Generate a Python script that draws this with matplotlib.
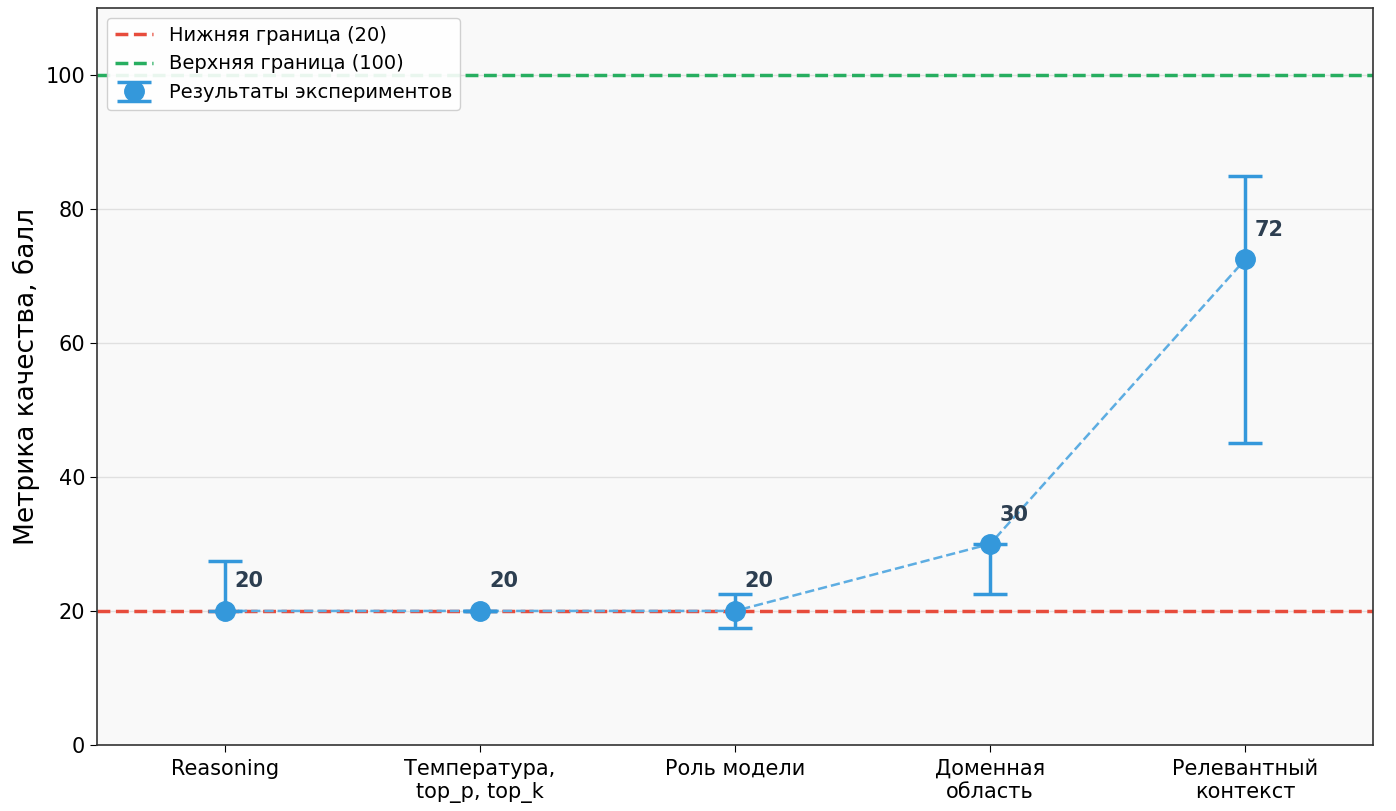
import matplotlib
matplotlib.use("Agg")
import matplotlib.pyplot as plt
import numpy as np

categories = ["Reasoning", "Температура,\ntop_p, top_k", "Роль модели", "Доменная\nобласть", "Релевантный\nконтекст"]
values = [20, 20, 20, 30, 72.5]
err_low = [20, 20, 17.5, 22.5, 45]
err_high = [27.5, 20, 22.5, 30, 85]
value_labels = ["20", "20", "20", "30", "72"]
lower_bound = 20
upper_bound = 100

plt.rcParams['font.family'] = ['DejaVu Sans']
fig, ax = plt.subplots(figsize=(13.96, 8.11), dpi=100)
fig.subplots_adjust(left=0.0695, right=0.9835, top=0.99, bottom=0.0815)
ax.set_facecolor("#f9f9f9")

x = np.arange(len(categories))
vals = np.array(values)
yerr = np.array([vals - np.array(err_low), np.array(err_high) - vals])

ax.axhline(lower_bound, color="#e74c3c", linestyle="--", linewidth=2.5, label="Нижняя граница (20)", zorder=2)
ax.axhline(upper_bound, color="#27ae60", linestyle="--", linewidth=2.5, label="Верхняя граница (100)", zorder=2)

ax.plot(x, vals, linestyle="--", color="#5dade2", linewidth=1.8, zorder=3)
ax.errorbar(x, vals, yerr=yerr, fmt="o", color="#3498db", markersize=14,
            elinewidth=2.5, capsize=12, capthick=2.5, label="Результаты экспериментов", zorder=4)

for xi, v, lab in zip(x, vals, value_labels):
    ax.annotate(lab, (xi, v), xytext=(7, 14), textcoords="offset points",
                ha="left", va="bottom", fontsize=15, fontweight="bold", color="#2c3e50")

ax.set_xlim(-0.5, 4.5)
ax.set_ylim(0, 110)
ax.set_yticks([0, 20, 40, 60, 80, 100])
ax.set_xticks(x)
ax.set_xticklabels(categories, fontsize=15)
ax.tick_params(axis="y", labelsize=15)
ax.tick_params(axis="both", length=5)
ax.tick_params(axis="x", pad=5)
ax.set_ylabel("Метрика качества, балл", fontsize=19)
ax.yaxis.set_label_coords(-0.045, 0.5)
ax.yaxis.grid(True, color="#e0e0e0", linewidth=1)
ax.set_axisbelow(True)
for s in ax.spines.values():
    s.set_color("#333333")
    s.set_linewidth(1.2)

ax.legend(loc="upper left", fontsize=14, framealpha=0.9, edgecolor="#cccccc")

fig.savefig("out.png", dpi=100)
